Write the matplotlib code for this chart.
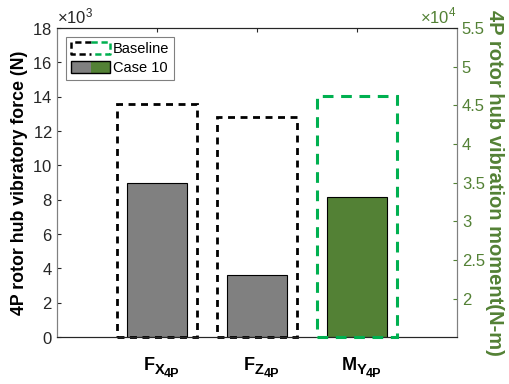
import matplotlib
matplotlib.use("Agg")
import matplotlib.pyplot as plt
from matplotlib.patches import Patch, Rectangle
from matplotlib.lines import Line2D
from matplotlib.ticker import FuncFormatter

plt.rcParams['font.family'] = ['Liberation Sans', 'DejaVu Sans']
plt.rcParams['mathtext.fontset'] = 'custom'
plt.rcParams['mathtext.rm'] = 'Liberation Sans'

# data
label_parts = [('F', 'X', '4P'), ('F', 'Z', '4P'), ('M', 'Y', '4P')]
force_pos = [1, 2]
force_baseline = [13600, 12800]
force_case10 = [9000, 3600]
moment_pos = [3]
moment_baseline = [46200]
moment_case10 = [33100]
moment_floor = 15000

GRAY = '#808080'
GREEN = '#538135'
LGREEN = '#00B050'
DARK = '#262626'


class SplitBox:
    # legend entry: left half one style, right half another
    def __init__(self, kind):
        self.kind = kind

    def legend_artist(self, legend, orig_handle, fontsize, handlebox):
        x0, y0 = -handlebox.xdescent, -handlebox.ydescent
        w, h = handlebox.width, handlebox.height
        tr = handlebox.get_transform()
        if self.kind == 'base':
            kw = dict(lw=1.8, ls=(0, (2.5, 1.5)), transform=tr)
            a = Line2D([x0 + w / 2, x0, x0, x0 + w / 2], [y0 + h, y0 + h, y0, y0], color='black', **kw)
            b = Line2D([x0 + w / 2, x0 + w, x0 + w, x0 + w / 2], [y0 + h, y0 + h, y0, y0], color=LGREEN, **kw)
            handlebox.add_artist(a)
            handlebox.add_artist(b)
            return a
        a = Rectangle((x0, y0), w / 2, h, fc=GRAY, ec='none', transform=tr)
        b = Rectangle((x0 + w / 2, y0), w / 2, h, fc=GREEN, ec='none', transform=tr)
        c = Rectangle((x0, y0), w, h, fc='none', ec='black', lw=1.0, transform=tr)
        for p in (a, b, c):
            handlebox.add_artist(p)
        return c


fig = plt.figure(figsize=(5.1, 3.84), dpi=100)
ax = fig.add_axes([0.112, 0.122, 0.784, 0.805])
ax2 = ax.twinx()

ax.bar(force_pos, force_case10, width=0.6, color=GRAY, edgecolor='black', linewidth=0.8, zorder=2)
ax.bar(force_pos, force_baseline, width=0.8, fill=False, edgecolor='black', linewidth=2,
       linestyle=(0, (2.5, 2)), zorder=3, clip_on=False)

ax2.bar(moment_pos, [v - moment_floor for v in moment_case10], width=0.6, bottom=moment_floor,
        color=GREEN, edgecolor='black', linewidth=0.8, zorder=2)
ax2.bar(moment_pos, [v - moment_floor for v in moment_baseline], width=0.8, bottom=moment_floor,
        fill=False, edgecolor=LGREEN, linewidth=2.2, linestyle=(0, (3.5, 2.5)), zorder=3, clip_on=False)

ax.set_xlim(0, 4)
ax.set_xticks([1, 2, 3])
ax.set_xticklabels([])
ax.set_ylim(0, 18000)
ax.set_yticks(range(0, 18001, 2000))
ax.ticklabel_format(axis='y', style='sci', scilimits=(3, 3), useMathText=True)
ax.yaxis.get_offset_text().set_fontsize(12)
ax.tick_params(axis='both', direction='in', length=3, labelsize=12, colors=DARK, top=True)
ax.set_ylabel('4P rotor hub vibratory force (N)', fontsize=12.8, fontweight='bold', labelpad=3)

ax2.set_ylim(moment_floor, 55000)
ax2.set_yticks(range(20000, 55001, 5000))
ax2.yaxis.set_major_formatter(FuncFormatter(lambda v, _: f'{v / 1e4:g}'))
ax2.text(1.0, 1.006, r'$\times10^{4}$', transform=ax2.transAxes, ha='right', va='bottom',
         fontsize=12, color=GREEN)
ax2.tick_params(axis='y', direction='in', length=3, labelsize=12, colors=GREEN)
ax2.set_ylabel('4P rotor hub vibration moment(N-m)', fontsize=14.5, fontweight='bold',
               color=GREEN, rotation=270, labelpad=14)

for a in (ax, ax2):
    a.spines['left'].set_color('#808080')
    a.spines['right'].set_color('#808080')
    a.spines['top'].set_color(DARK)
    a.spines['bottom'].set_color(DARK)

# x labels: letter, subscript, sub-subscript
sizes = [13.0, 10.5, 9.0]
drops = [23.8, 26.8, 29.0]  # baseline distance below axis, points
renderer = fig.canvas.get_renderer()
for pos, parts in zip([1, 2, 3], label_parts):
    texts = []
    for s, size, dy in zip(parts, sizes, drops):
        t = ax.annotate(s, xy=(pos, 0), xycoords=('data', 'axes fraction'), xytext=(0, -dy),
                        textcoords='offset points', ha='left', va='baseline',
                        fontsize=size, fontweight='bold', color='black')
        texts.append(t)
    widths = [t.get_window_extent(renderer).width * 72 / fig.dpi for t in texts]
    x = -sum(widths) / 2 + 3.5
    for t, w, dy in zip(texts, widths, drops):
        t.xyann = (x, -dy)
        x += w - 0.3

h_base = Patch(label='Baseline')
h_case = Patch(label='Case 10')
leg = ax.legend([h_base, h_case], ['Baseline', 'Case 10'], loc='upper left',
                handler_map={h_base: SplitBox('base'), h_case: SplitBox('case')},
                fontsize=10.5, handlelength=2.7, handleheight=0.95, handletextpad=0.15,
                labelspacing=0.3, borderpad=0.35, borderaxespad=0.6, fancybox=False,
                framealpha=1, edgecolor='#808080')
leg.get_frame().set_linewidth(0.8)
leg.set_zorder(5)

fig.savefig('out.png', dpi=100)
